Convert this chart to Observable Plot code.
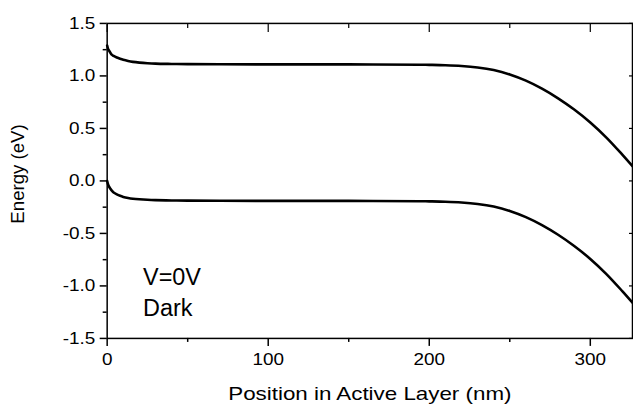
<!DOCTYPE html>
<html>
<head>
<meta charset="utf-8">
<script src="https://cdn.jsdelivr.net/npm/d3@7"></script>
<script src="https://cdn.jsdelivr.net/npm/@observablehq/plot@0.6"></script>
<style>
  html, body { margin: 0; padding: 0; background: #fff; overflow: hidden; }
  #chart { width: 633px; height: 407px; overflow: hidden; }
</style>
</head>
<body>
<div id="chart"></div>
<script>
// Position in active layer (nm)
const positions = [0, 0.5, 1, 2, 3, 4, 6, 8, 10, 13, 16, 20, 25, 30, 40, 50, 70, 100, 150, 194, 200, 210, 220, 230, 240, 250, 260, 270, 280, 290, 300, 310, 320, 326.2];
// Upper band energy (eV)
const upperBand = [1.29, 1.26, 1.245, 1.22, 1.20, 1.19, 1.175, 1.163, 1.153, 1.142, 1.134, 1.127, 1.121, 1.117, 1.114, 1.112, 1.111, 1.110, 1.110, 1.107, 1.1055, 1.102, 1.095, 1.081, 1.056, 1.014, 0.955, 0.879, 0.787, 0.680, 0.557, 0.413, 0.248, 0.14];
// Lower band energy (eV)
const lowerBand = [0.0, -0.03, -0.05, -0.075, -0.095, -0.11, -0.128, -0.142, -0.152, -0.162, -0.169, -0.175, -0.18, -0.183, -0.186, -0.188, -0.189, -0.19, -0.19, -0.193, -0.1945, -0.198, -0.205, -0.219, -0.244, -0.286, -0.345, -0.421, -0.513, -0.62, -0.743, -0.887, -1.052, -1.16];

const yMajorTicks = [-1.5, -1.0, -0.5, 0.0, 0.5, 1.0, 1.5];
const yMinorTicks = [-1.25, -0.75, -0.25, 0.25, 0.75, 1.25];
const xMajorTicks = [0, 100, 200, 300];
const xMinorTicks = [50, 150, 250];

const xLabel = "Position in Active Layer (nm)";
const yLabel = "Energy (eV)";
const annotationLines = ["V=0V", "Dark"];

const rows = [
  ...positions.map((x, i) => ({x, e: upperBand[i], band: "upper"})),
  ...positions.map((x, i) => ({x, e: lowerBand[i], band: "lower"}))
];

const blank = () => "";
const yFmt = d => d.toFixed(1);
const xFmt = d => String(d);

const chart = Plot.plot({
  width: 635,
  height: 407,
  marginLeft: 107,
  marginRight: 1,
  marginTop: 23,
  marginBottom: 68,
  x: {domain: [0, 326.2]},
  y: {domain: [-1.5, 1.5]},
  style: {fontFamily: "'Liberation Sans', Arial, sans-serif", fontSize: "16.5px", color: "black", background: "white"},
  marks: [
    Plot.axisY(yMajorTicks, {anchor: "left", tickSize: 7, tickPadding: 5, strokeWidth: 1.5, tickFormat: yFmt, label: null}),
    Plot.axisY(yMinorTicks, {anchor: "left", tickSize: 4, strokeWidth: 1.5, tickFormat: blank, label: null}),
    Plot.axisY(yMajorTicks, {anchor: "right", tickSize: -4, strokeWidth: 1.2, tickFormat: blank, label: null}),
    Plot.axisX(xMajorTicks, {anchor: "bottom", tickSize: 8, tickPadding: 7, strokeWidth: 1.5, tickFormat: xFmt, label: null}),
    Plot.axisX(xMinorTicks, {anchor: "bottom", tickSize: 4, strokeWidth: 1.5, tickFormat: blank, label: null}),
    Plot.axisX(xMajorTicks, {anchor: "top", tickSize: -8, strokeWidth: 1.2, tickFormat: blank, label: null}),
    Plot.axisX(xMinorTicks, {anchor: "top", tickSize: -4, strokeWidth: 1.2, tickFormat: blank, label: null}),
    Plot.frame({stroke: "black", strokeWidth: 1.5}),
    Plot.line(rows, {x: "x", y: "e", z: "band", stroke: "black", strokeWidth: 2.6, curve: "catmull-rom"}),
    Plot.text([yLabel], {frameAnchor: "left", dx: -89, dy: -7, rotate: -90, fontSize: 18.7, textAnchor: "middle", lineAnchor: "middle"}),
    Plot.text([xLabel], {frameAnchor: "bottom", dy: 56, fontSize: 18.7, textAnchor: "middle", lineAnchor: "middle"}),
    Plot.text([annotationLines.join("\n")], {frameAnchor: "top-left", dx: 36, dy: 240, textAnchor: "start", lineAnchor: "top", fontSize: 23.5, lineHeight: 1.32})
  ]
});

document.getElementById("chart").appendChild(chart);

// Widen glyphs horizontally to match the reference's wide lettering
const tickTexts = new Set([...yMajorTicks.map(yFmt), ...xMajorTicks.map(xFmt)]);
chart.querySelectorAll("text").forEach(t => {
  const s = t.textContent;
  let factor = 1;
  if (tickTexts.has(s)) factor = 1.15;
  else if (s === xLabel) factor = 1.2;
  if (factor !== 1) {
    const len = t.getComputedTextLength();
    if (len > 0) {
      t.setAttribute("textLength", (len * factor).toFixed(2));
      t.setAttribute("lengthAdjust", "spacingAndGlyphs");
    }
  }
});
</script>
</body>
</html>
